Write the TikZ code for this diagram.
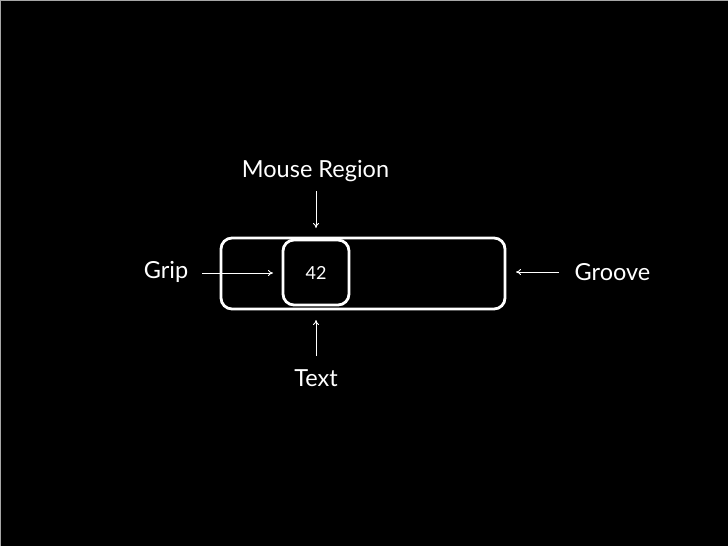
\documentclass[tikz,border=0pt]{standalone}
\usepackage{fontspec}
\setmainfont{Lato}
\usetikzlibrary{arrows.meta}
\begin{document}
\begin{tikzpicture}[x=1pt,y=-1pt,
  lbl/.style={text=white,font=\fontsize{23.5}{26}\selectfont,inner sep=0pt},
  boxo/.style={draw=white,line width=2.8pt,rounded corners=11pt},
  conn/.style={draw=white,line width=0.9pt,-{To[length=5pt,width=6pt]}}]
\fill[black] (0,0) rectangle (728,546);
\useasboundingbox (0,0) rectangle (728,546);
\draw[gray!70,line width=1.5pt] (0,546) -- (0,0) -- (728,0);
\node[boxo,minimum width=284pt,minimum height=71pt,inner sep=0pt] (groove) at (363,273.5) {};
\node[boxo,minimum width=66pt,minimum height=65pt,inner sep=0pt,text=white,font=\fontsize{18}{20}\selectfont] (grip) at (316,272.5) {42};
\node[lbl] (mouse) at (315.5,171) {Mouse Region};
\node[lbl] (text) at (316,378) {Text};
\node[lbl] (griplbl) at (166,272) {Grip};
\node[lbl] (groovelbl) at (612.5,272) {Groove};
\coordinate (mstart) at (316,191);
\coordinate (mtip) at (316,228);
\coordinate (tstart) at (316,356);
\coordinate (ttip) at (316,320);
\coordinate (gstart) at (202,273);
\coordinate (gtip) at (273,273);
\coordinate (grstart) at (559,272);
\coordinate (grtip) at (516,272);
\draw[conn] (mstart) -- (mtip);
\draw[conn] (tstart) -- (ttip);
\draw[conn] (gstart) -- (gtip);
\draw[conn] (grstart) -- (grtip);
\end{tikzpicture}
\end{document}
